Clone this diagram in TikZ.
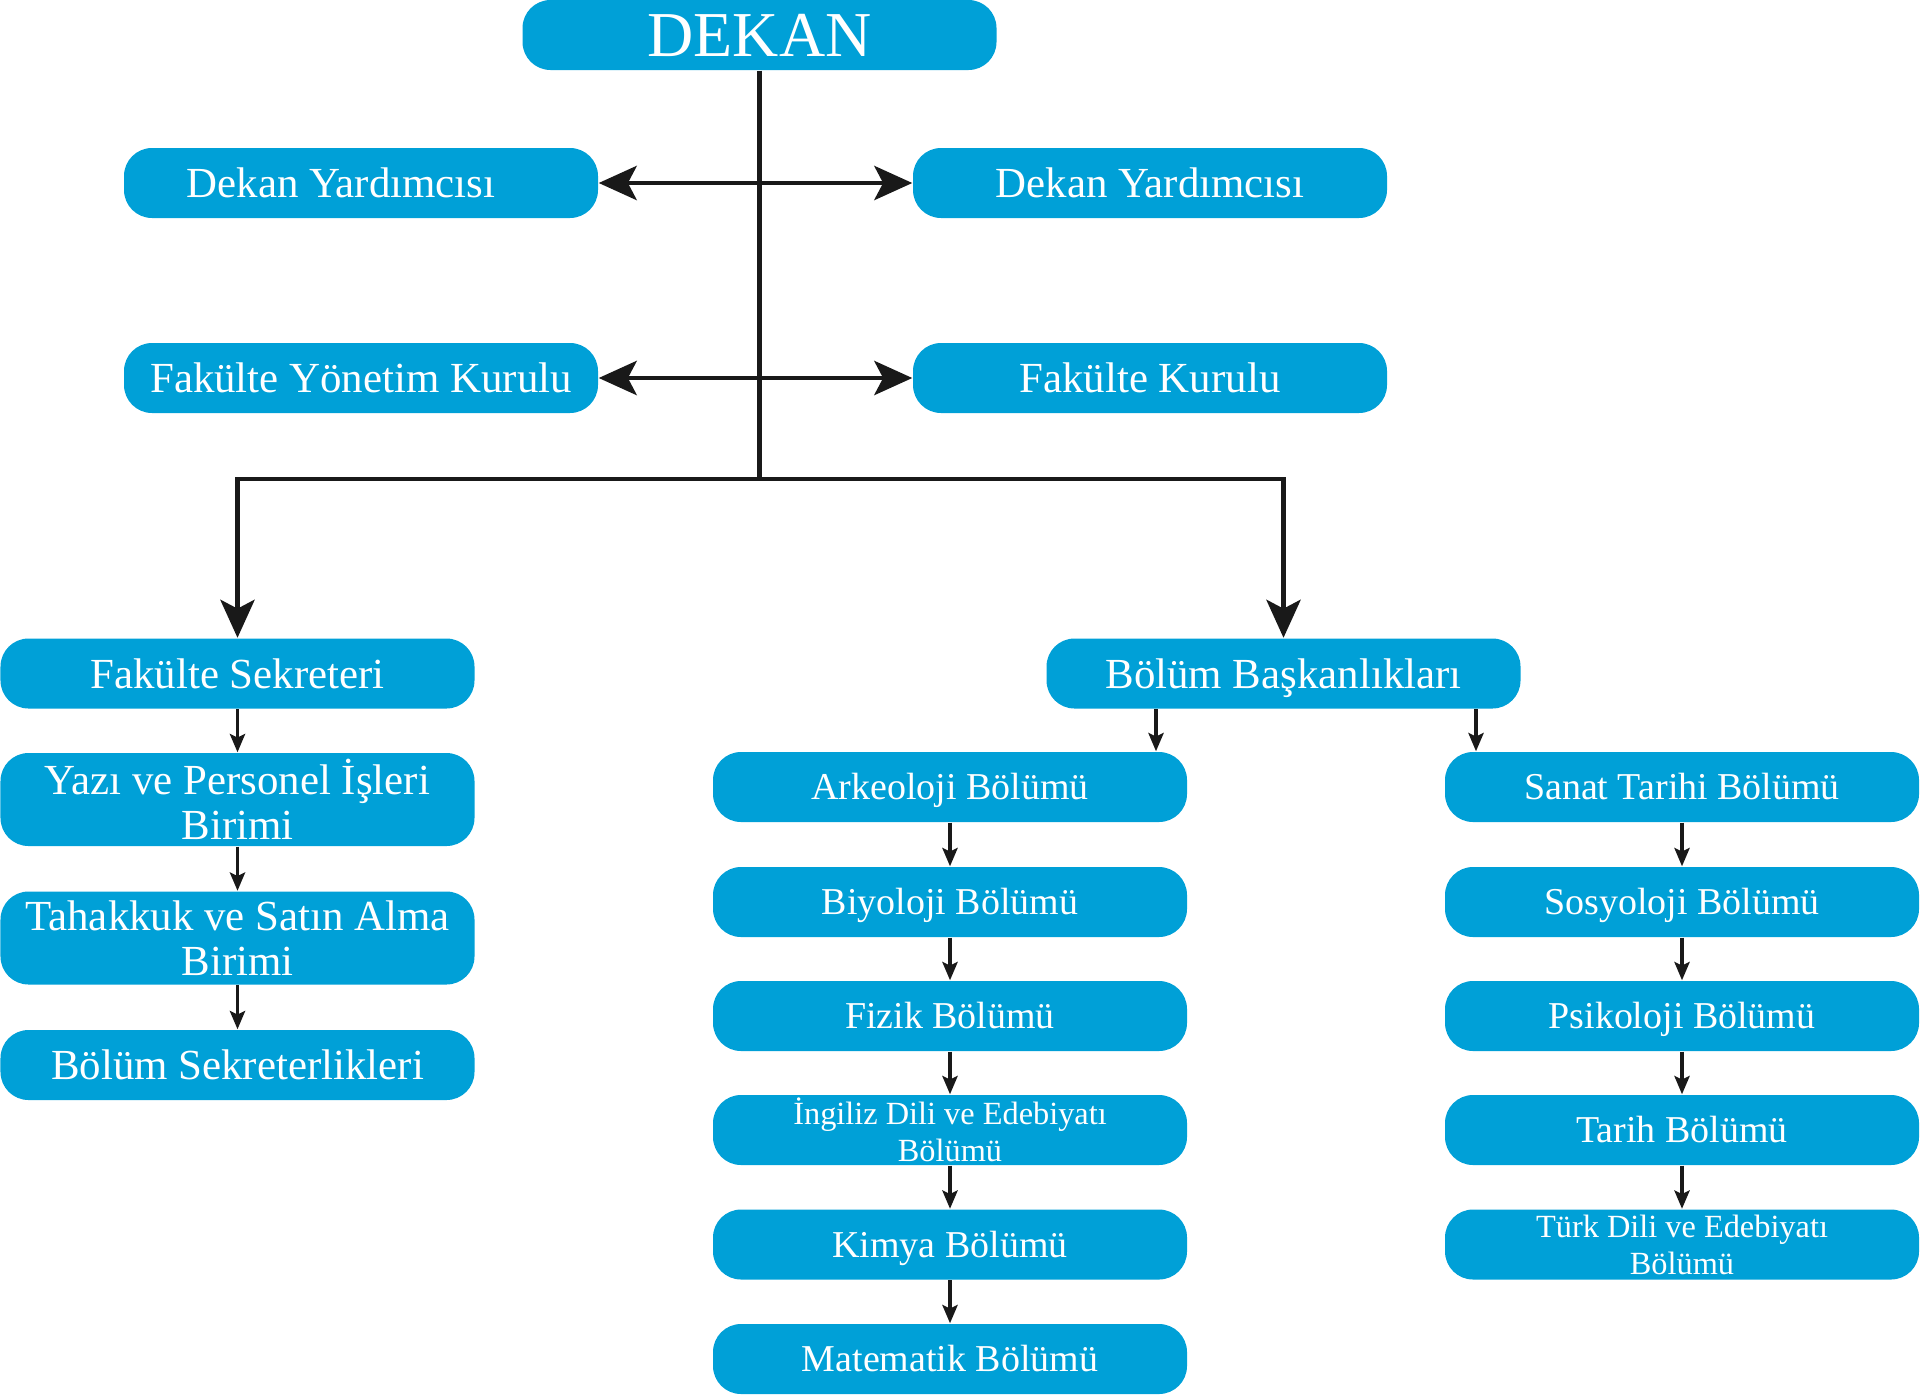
\documentclass[tikz,border=0pt]{standalone}
\usepackage{fontspec}
\setmainfont{Liberation Serif}
\usetikzlibrary{arrows.meta}
\definecolor{boxblue}{RGB}{0,160,215}
\tikzset{
    unitbase/.style={fill=boxblue, text=white, rounded corners=0.28cm, minimum width=4.74cm, minimum height=0.70cm, inner sep=0pt, align=center, font=\fontsize{12.2}{12.9}\selectfont},
    unit/.style={unitbase, text height=11pt, text depth=2.7pt},
    unittall/.style={unitbase, minimum height=0.93cm},
    dept/.style={unitbase, font=\fontsize{10.8}{11.5}\selectfont, text height=9.7pt, text depth=2.4pt},
    deptsmall/.style={unitbase, font=\fontsize{9.2}{10.5}\selectfont},
    bigline/.style={line width=1.4pt, draw=black!90},
    bigarrow/.style={bigline, -{Stealth[length=10.8pt, width=9.7pt, inset=2.5pt]}},
    bothway/.style={bigline, {Stealth[length=10.8pt, width=9.7pt, inset=2.5pt]}-{Stealth[length=10.8pt, width=9.7pt, inset=2.5pt]}},
    smallarrow/.style={line width=1.05pt, draw=black!90, -{Stealth[length=5.2pt, width=4.3pt, inset=1pt]}}
}
\begin{document}
\begin{tikzpicture}
    \useasboundingbox (0,0) rectangle (19.2,-13.94);

    \begin{scope}
        \node[unitbase, font=\fontsize{18.2}{19}\selectfont] (dekan) at (7.595,-0.35) {DEKAN};
        \node[unit] (dyl) at (3.61,-1.83) {Dekan Yardımcısı\hspace*{0.4cm}};
        \node[unit] (dyr) at (11.50,-1.83) {Dekan Yardımcısı};
        \node[unit] (fyk) at (3.61,-3.78) {Fakülte Yönetim Kurulu};
        \node[unit] (fk) at (11.50,-3.78) {Fakülte Kurulu};
    \end{scope}

    \coordinate (bus) at (7.595,-4.79);
    \draw[bigline] (dekan) -- (bus);
    \draw[bothway] (dyl) -- (dyr);
    \draw[bothway] (fyk) -- (fk);

    \begin{scope}
        \node[unit] (fs) at (2.375,-6.735) {Fakülte Sekreteri};
        \node[unittall] (yp) at (2.375,-7.995) {Yazı ve Personel İşleri\\Birimi};
        \node[unittall] (tsa) at (2.375,-9.38) {Tahakkuk ve Satın Alma\\Birimi};
        \node[unit] (bsek) at (2.375,-10.65) {Bölüm Sekreterlikleri};
    \end{scope}

    \node[unit] (bb) at (12.835,-6.735) {Bölüm Başkanlıkları};

    \draw[bigarrow] (bus) -| (fs);
    \draw[bigarrow] (bus) -| (bb);

    \draw[smallarrow] (fs) -- (yp);
    \draw[smallarrow] (yp) -- (tsa);
    \draw[smallarrow] (tsa) -- (bsek);

    \begin{scope}
        \node[dept] (ark) at (9.50,-7.87) {Arkeoloji Bölümü};
        \node[dept] (biy) at (9.50,-9.02) {Biyoloji Bölümü};
        \node[dept] (fiz) at (9.50,-10.16) {Fizik Bölümü};
        \node[deptsmall] (ing) at (9.50,-11.30) {İngiliz Dili ve Edebiyatı\\Bölümü};
        \node[dept] (kim) at (9.50,-12.445) {Kimya Bölümü};
        \node[dept] (mat) at (9.50,-13.59) {Matematik Bölümü};
    \end{scope}

    \begin{scope}
        \node[dept] (san) at (16.82,-7.87) {Sanat Tarihi Bölümü};
        \node[dept] (sos) at (16.82,-9.02) {Sosyoloji Bölümü};
        \node[dept] (psi) at (16.82,-10.16) {Psikoloji Bölümü};
        \node[dept] (tar) at (16.82,-11.30) {Tarih Bölümü};
        \node[deptsmall] (turk) at (16.82,-12.445) {Türk Dili ve Edebiyatı\\Bölümü};
    \end{scope}

    \draw[smallarrow] ([xshift=-1.275cm]bb.south) -- ([xshift=-1.275cm]bb.south |- ark.north);
    \draw[smallarrow] ([xshift=1.925cm]bb.south) -- ([xshift=1.925cm]bb.south |- san.north);

    \foreach \a/\b in {ark/biy, biy/fiz, fiz/ing, ing/kim, kim/mat, san/sos, sos/psi, psi/tar, tar/turk}
        \draw[smallarrow] (\a) -- (\b);
\end{tikzpicture}
\end{document}
